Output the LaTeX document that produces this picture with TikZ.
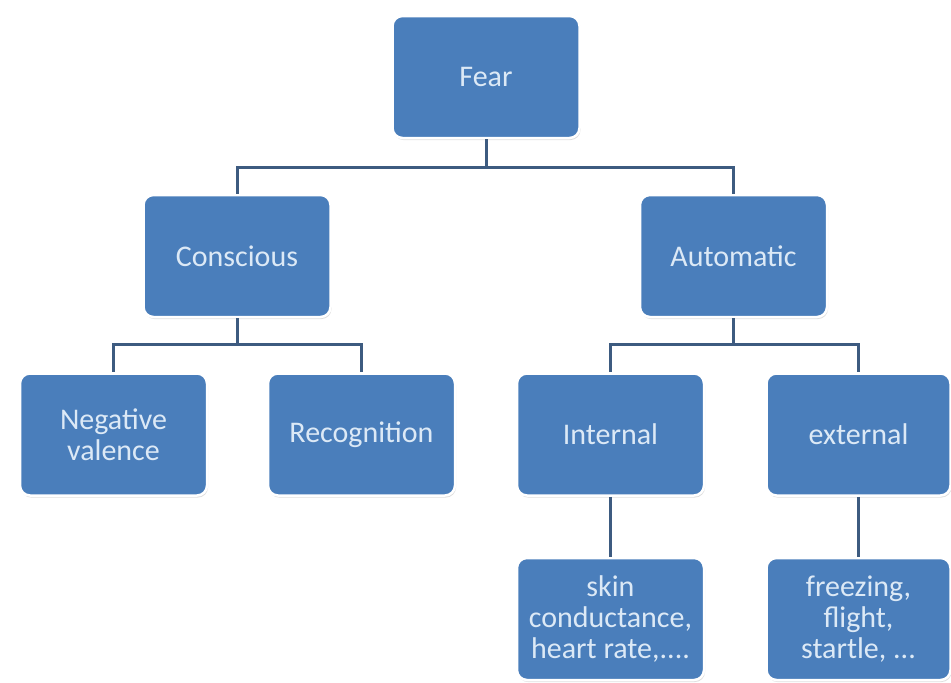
\documentclass[tikz,border=0pt]{standalone}
\usepackage{fontspec}
\setmainfont{Carlito}
\usetikzlibrary{shadows}
\definecolor{boxblue}{HTML}{4A7EBB}
\definecolor{boxtext}{HTML}{DCE9F6}
\definecolor{linecol}{HTML}{3D5B80}
\begin{document}
\begin{tikzpicture}[x=1pt,y=-1pt,
  box/.style={rectangle, rounded corners=10pt, fill=boxblue, draw=white, line width=2.5pt,
    minimum width=187pt, minimum height=122pt, inner sep=0pt, align=center,
    text=boxtext, font=\fontsize{30}{31}\selectfont,
    drop shadow={opacity=0.25, shadow xshift=1pt, shadow yshift=-2pt}},
  conn/.style={draw=linecol, line width=3pt}]
\useasboundingbox[fill=white] (0,0) rectangle (951,683);
\node[box] (fear) at (486,77) {Fear};
\node[box] (cons) at (237,256) {Conscious};
\node[box] (auto) at (733.5,256) {Automatic};
\node[box] (neg) at (113.5,434.5) {Negative\\valence};
\node[box] (rec) at (361.5,434.5) {Recognition};
\node[box] (int) at (610.5,434.5) {Internal};
\node[box, minimum width=184pt] (ext) at (858.5,434.5) {external};
\node[box] (skin) at (610.5,619) {skin\\conductance,\\heart rate,....};
\node[box, minimum width=184pt] (frz) at (858.5,619) {freezing,\\flight,\\startle, ...};
\coordinate (b1) at (0,167);
\coordinate (b2) at (0,344);
\draw[conn] (fear.south) -- (fear.south |- b1) -| (cons.north);
\draw[conn] (fear.south |- b1) -| (auto.north);
\draw[conn] (cons.south) -- (cons.south |- b2) -| (neg.north);
\draw[conn] (cons.south |- b2) -| (rec.north);
\draw[conn] (auto.south) -- (auto.south |- b2) -| (int.north);
\draw[conn] (auto.south |- b2) -| (ext.north);
\draw[conn] (int.south) -- (skin.north);
\draw[conn] (ext.south) -- (frz.north);
\end{tikzpicture}
\end{document}
